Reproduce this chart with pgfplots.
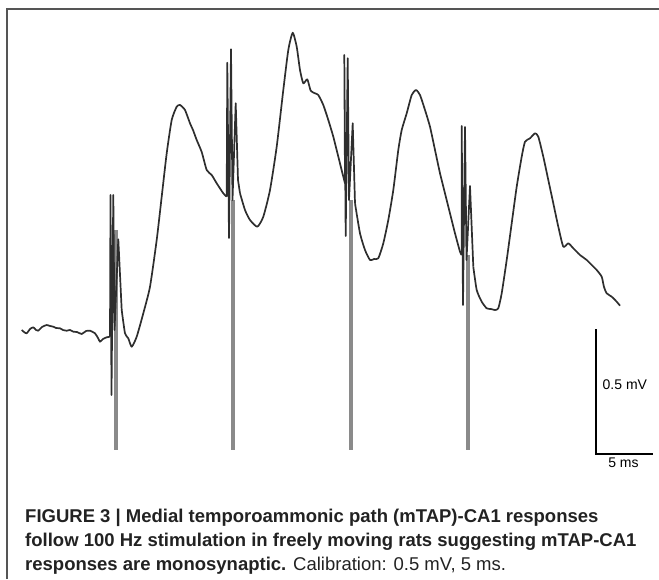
\documentclass[border=0pt]{standalone}
\usepackage{fontspec}
\setmainfont{Liberation Sans}
\usepackage{pgfplots}
\pgfplotsset{compat=1.18}
\definecolor{trace}{HTML}{2E2E2E}
\definecolor{stim}{HTML}{8A8A8A}
\definecolor{frame}{HTML}{555555}
\definecolor{captxt}{HTML}{222222}
\begin{document}
\begin{tikzpicture}
\begin{axis}[
  width=659pt, height=579pt, scale only axis,
  xmin=0, xmax=659, ymin=0, ymax=579, y dir=reverse,
  hide axis, clip=false,
  tr/.style={trace, line width=1.7pt, line join=round, forget plot},
  wave/.style={tr, smooth, tension=0.35},
]
% frame
\addplot[frame, line width=2pt, forget plot] coordinates {(7,579) (7,9) (659,9)};
% stimulus artifacts (grey)
\addplot[stim, line width=4pt, forget plot] coordinates {(116,230) (116,450)};
\addplot[stim, line width=4pt, forget plot] coordinates {(233.3,200) (233.3,450)};
\addplot[stim, line width=4pt, forget plot] coordinates {(350.5,200) (350.5,450)};
\addplot[stim, line width=4pt, forget plot] coordinates {(467.5,255) (467.5,450)};
% trace: baseline
\addplot[wave] coordinates {
(21.7,330) (24,332) (26.7,333.3) (30,329) (33.3,327.3) (36,330) (38.3,330.7) (42,327) (46.7,325) (50,326) (53.3,326.7)
(56,328) (60,328.3) (63,330) (66.7,330.7) (70,330) (73.3,331.7) (77,332) (81.7,334) (86,331) (90,330.7) (95,333.3)
(98,338) (100,341.7) (103,339) (106.7,337.3) (110,336.7)};
% artifact 1
\addplot[tr] coordinates {(110,336.7) (110.5,195) (111.5,395) (113.3,195) (114.5,330) (118.3,239.3) (121.7,310)};
% wave 1
\addplot[wave] coordinates {
(121.7,310) (125,333.3) (128.3,338.3) (131.7,346.7) (136.7,336.7)
(143.3,313.3) (150,286.7) (156.7,240) (161.7,196.7) (166.7,153.3)
(171.7,120) (176.7,106.7) (180,105) (185,110) (190,123.3) (193,130) (196.7,140)
(201.7,152) (206.7,170) (211.7,175) (216.7,183.3) (223.3,193.3) (226.7,196.7)};
% artifact 2
\addplot[tr] coordinates {(226.7,196.7) (227.3,62.7) (229,238) (231,49.3) (232.5,200) (235.7,103.3) (238,180) (240,193.3)};
% wave 2
\addplot[wave] coordinates {
(240,193.3) (245,210) (250,220) (257.3,226.7) (263.3,216.7) (270,190)
(276.7,146.7) (283.3,90) (288.3,50) (292.7,32.7) (296.7,46.7) (300,70)
(303.3,83.3) (307.3,79.3) (310.7,90.7) (315,93.3) (318.3,95) (323.3,105)
(328.3,120) (333.3,136.7) (338.3,156.7) (343.3,176.7) (345,183.3)};
% artifact 3
\addplot[tr] coordinates {(345,183.3) (344.3,55) (345.7,236) (347.7,58.3) (349,200) (352.7,123.3) (355,203.3)};
% wave 3
\addplot[wave] coordinates {
(355,203.3) (360,233.3) (365,250) (370,260) (374,259) (378.3,258.3) (383.3,243.3)
(388.3,220) (393.3,190) (398.3,150) (401.7,130) (406.7,113.3) (411.7,95)
(416,90) (420,95) (425,110) (430,126.7) (435,150) (440,173.3) (445,193.3)
(450,213.3) (455,233.3) (460,251.7) (461.7,255)};
% artifact 4
\addplot[tr] coordinates {(461.7,255) (461.7,126) (463,305) (465,127) (466.5,260) (470,186) (473.3,266.7)};
% wave 4
\addplot[wave] coordinates {
(473.3,266.7) (476.7,290) (481.7,301.7) (486.7,308.3) (491,309) (495,310) (498.3,308.3)
(501.7,293.3) (506.7,260) (511.7,223.3) (516.7,186.7) (521.7,156.7)
(525,141.7) (530,138.3) (535,133.3) (538.3,136.7) (543.3,156.7)
(548.3,180) (553.3,203.3) (558.3,226.7) (563.3,246.7) (568.3,243.3)
(573.3,248.3) (577,252) (580,255) (586.7,260) (591.7,265) (596.7,270) (601.7,276.7)
(604,287) (606.7,293.3) (611.7,296.7) (616.7,301.7) (620,305.7)};
% scale bar
\addplot[black, line width=2.2pt, line join=miter, forget plot] coordinates {(596,329.3) (596,454.3) (653.3,454.3)};
\node[anchor=west, font=\fontsize{14}{16}\selectfont, inner sep=0pt] at (axis cs:602.5,385) {0.5 mV};
\node[anchor=north, font=\fontsize{14}{16}\selectfont, inner sep=0pt] at (axis cs:623.5,458) {5 ms};
% caption
\node[anchor=base west, inner sep=0pt, text=captxt, font=\fontsize{18.5}{24}\selectfont\bfseries] at (axis cs:25,522) {FIGURE 3 | Medial temporoammonic path (mTAP)-CA1 responses};
\node[anchor=base west, inner sep=0pt, text=captxt, font=\fontsize{18.5}{24}\selectfont\bfseries] at (axis cs:25,546) {follow 100 Hz stimulation in freely moving rats suggesting mTAP-CA1};
\node[anchor=base west, inner sep=0pt, text=captxt, font=\fontsize{18.5}{24}\selectfont] at (axis cs:25,570) {\textbf{responses are monosynaptic.} Calibration: 0.5 mV, 5 ms.};
\end{axis}
\pgfresetboundingbox
\path (current axis.south west) rectangle (current axis.north east);
\end{tikzpicture}
\end{document}
